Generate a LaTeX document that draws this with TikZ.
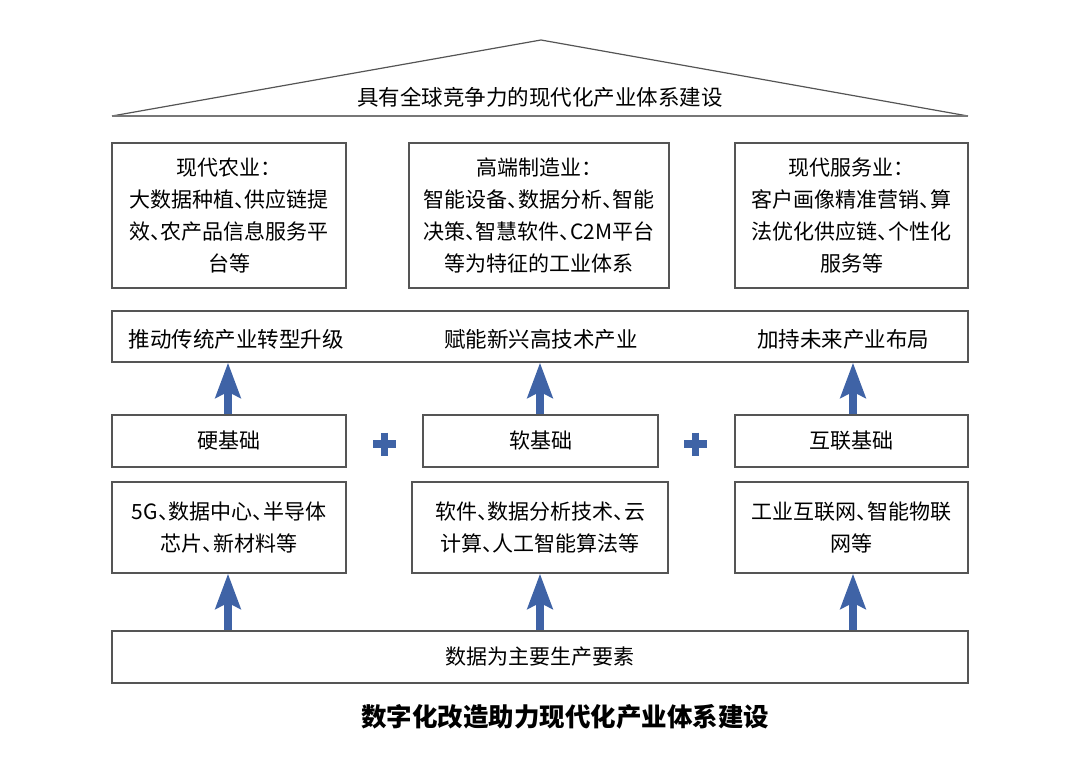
\documentclass[tikz,border=0pt]{standalone}
\usepackage{fontspec}
\setmainfont{Noto Sans CJK SC}
\usetikzlibrary{arrows.meta}
\newcommand{\dn}{\makebox[0.5em][l]{、}}

\begin{document}
\begin{tikzpicture}[x=1pt, y=-1pt,
        box/.style={draw=line_grey, line width=1.4pt, inner sep=0pt, align=center,
                font=\fontsize{21}{32}\selectfont},
        label_text/.style={inner sep=0pt, font=\fontsize{21.5}{32}\selectfont},
        up_arrow/.style={draw=arrow_blue, line width=8pt,
                -{Stealth[length=35pt, width=25pt, inset=6pt]}},
        plus_sign/.style={draw=arrow_blue, line width=7.5pt}]

    \definecolor{arrow_blue}{RGB}{63,99,166}
    \definecolor{line_grey}{RGB}{85,85,85}

    \useasboundingbox (0,0) rectangle (1080,765);

    % roof
    \coordinate (roof_left) at (112,116);
    \coordinate (roof_top) at (541,40);
    \coordinate (roof_right) at (968,116);
    \draw[line_grey, line width=1.2pt] (roof_left) -- (roof_top) -- (roof_right);
    \draw[line_grey!80, line width=2pt] (roof_left) -- (roof_right);
    \node[label_text] (roof_text) at (540,97) {具有全球竞争力的现代化产业体系建设};

    % industries
    \node[box, minimum width=234, minimum height=145] (agri) at (229,215.5)
        {现代农业：\\大数据种植\dn 供应链提\\效\dn 农产品信息服务平\\台等};
    \node[box, minimum width=260, minimum height=145] (manu) at (539,215.5)
        {高端制造业：\\智能设备\dn 数据分析\dn 智能\\决策\dn 智慧软件\dn C2M平台\\等为特征的工业体系};
    \node[box, minimum width=233, minimum height=145] (serv) at (851.5,215.5)
        {现代服务业：\\客户画像精准营销\dn 算\\法优化供应链\dn 个性化\\服务等};

    % effects
    \node[box, minimum width=856, minimum height=51] (effects) at (540,336.5) {};
    \node[label_text] (push) at (236,339) {推动传统产业转型升级};
    \node[label_text] (empower) at (541,339) {赋能新兴高技术产业};
    \node[label_text] (boost) at (843,339) {加持未来产业布局};

    % foundations
    \node[box, minimum width=234, minimum height=52] (hard) at (229,441) {硬基础};
    \node[box, minimum width=235, minimum height=52] (soft) at (540.5,441) {软基础};
    \node[box, minimum width=233, minimum height=52] (net) at (851.5,441) {互联基础};

    \foreach \x in {384.5, 695.5} {
            \draw[plus_sign] (\x-11.5,444) -- (\x+11.5,444);
            \draw[plus_sign] (\x,432.5) -- (\x,455.5);
        }

    % examples
    \node[box, minimum width=234, minimum height=91] (hard_ex) at (229,527.5)
        {5G\dn 数据中心\dn 半导体\\芯片\dn 新材料等};
    \node[box, minimum width=256, minimum height=91] (soft_ex) at (540,527.5)
        {软件\dn 数据分析技术\dn 云\\计算\dn 人工智能算法等};
    \node[box, minimum width=233, minimum height=91] (net_ex) at (851.5,527.5)
        {工业互联网\dn 智能物联\\网等};

    % data
    \node[box, minimum width=856, minimum height=52] (data) at (540,657) {数据为主要生产要素};

    \coordinate (hard_foot) at (228,0);
    \coordinate (soft_foot) at (540,0);
    \coordinate (net_foot) at (853,0);
    \foreach \c in {hard, soft, net} {
            \draw[up_arrow] (\c_foot |- hard.north) -- (\c_foot |- effects.south);
            \draw[up_arrow] (\c_foot |- data.north) -- (\c_foot |- hard_ex.south);
        }

    \node[font=\fontsize{25.5}{30}\selectfont\bfseries] (title) at (565,717)
        {数字化改造助力现代化产业体系建设};
\end{tikzpicture}
\end{document}
